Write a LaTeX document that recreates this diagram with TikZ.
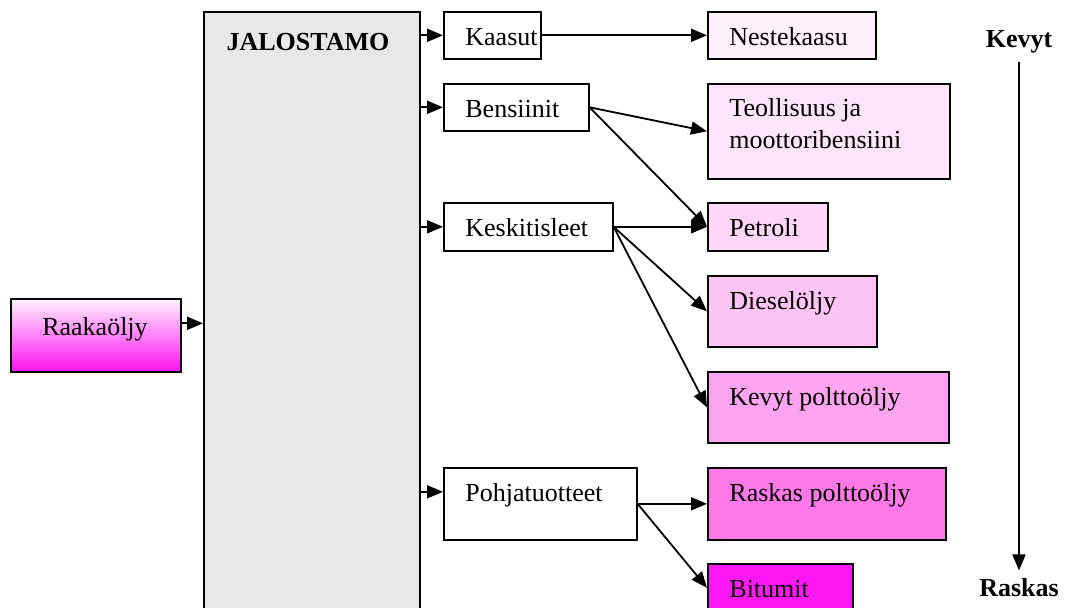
\documentclass[tikz,border=0pt]{standalone}
\usepackage{fontspec}
\setmainfont{Liberation Serif}
\usetikzlibrary{arrows.meta}
\definecolor{jalgrey}{HTML}{E8E8E8}
\definecolor{cneste}{HTML}{FFF0FC}
\definecolor{cteoll}{HTML}{FFE4FA}
\definecolor{cpetro}{HTML}{FFD6F8}
\definecolor{cdiesel}{HTML}{FFC4F4}
\definecolor{ckevyt}{HTML}{FFA4F0}
\definecolor{craskas}{HTML}{FF78E8}
\definecolor{cbitum}{HTML}{FF18F4}
\definecolor{craakatop}{HTML}{FFF2FF}
\definecolor{craakabot}{HTML}{FF10F0}
\tikzset{
  box/.style={draw=black, line width=0.8pt, rectangle, inner sep=0pt, anchor=north west},
  lbl/.style={anchor=base west, inner sep=0pt, font=\fontsize{13}{16}\selectfont, align=left},
  arr/.style={line width=0.9pt, -{Triangle[length=8pt,width=6.5pt]}},
  side/.style={inner sep=2pt, font=\fontsize{13}{16}\selectfont\bfseries}
}
\begin{document}
\begin{tikzpicture}[x=0.5pt,y=-0.5pt]
\useasboundingbox (0,0) rectangle (1071,607);
% main boxes
\node[box, fill=jalgrey, minimum width=108pt, minimum height=305pt] (jal) at (203,11) {};
\node[inner sep=0pt, font=\fontsize{13}{16}\selectfont\bfseries] (jaltxt) at (308,42) {JALOSTAMO};
\node[box, top color=craakatop, bottom color=craakabot, minimum width=85pt, minimum height=36.5pt] (raaka) at (10,298) {};
\node[inner sep=0pt, anchor=base, font=\fontsize{13}{16}\selectfont] (raakatxt) at (95,335) {Raakaöljy};
% fractions
\node[box, fill=white, minimum width=48.5pt, minimum height=23.5pt] (kaasut) at (443,11) {};
\node[box, fill=white, minimum width=72.5pt, minimum height=23.5pt] (bens) at (443,83) {};
\node[box, fill=white, minimum width=84.5pt, minimum height=24pt] (keski) at (443,202) {};
\node[box, fill=white, minimum width=96.5pt, minimum height=36pt] (pohja) at (443,467) {};
% products
\node[box, fill=cneste, minimum width=84pt, minimum height=23.5pt] (neste) at (707,11) {};
\node[box, fill=cteoll, minimum width=121pt, minimum height=47.5pt] (teoll) at (707,83) {};
\node[box, fill=cpetro, minimum width=60pt, minimum height=24pt] (petro) at (707,202) {};
\node[box, fill=cdiesel, minimum width=84.5pt, minimum height=35.5pt] (diesel) at (707,275) {};
\node[box, fill=ckevyt, minimum width=120.5pt, minimum height=35.5pt] (kevytp) at (707,371) {};
\node[box, fill=craskas, minimum width=119pt, minimum height=36pt] (raskasp) at (707,467) {};
\node[box, fill=cbitum, minimum width=72.5pt, minimum height=24pt] (bitum) at (707,563) {};
% labels
\node[lbl] (t1) at ([shift={(11pt,-17pt)}]kaasut.north west) {Kaasut};
\node[lbl] (t2) at ([shift={(11pt,-17pt)}]bens.north west) {Bensiinit};
\node[lbl] (t3) at ([shift={(11pt,-17pt)}]keski.north west) {Keskitisleet};
\node[lbl] (t4) at ([shift={(11pt,-17pt)}]pohja.north west) {Pohjatuotteet};
\node[lbl] (t5) at ([shift={(11pt,-17pt)}]neste.north west) {Nestekaasu};
\node[lbl, anchor=north west] (t6) at ([shift={(11pt,-7.5pt)}]teoll.north west) {Teollisuus ja\\moottoribensiini};
\node[lbl] (t7) at ([shift={(11pt,-17pt)}]petro.north west) {Petroli};
\node[lbl] (t8) at ([shift={(11pt,-17pt)}]diesel.north west) {Dieselöljy};
\node[lbl] (t9) at ([shift={(11pt,-17pt)}]kevytp.north west) {Kevyt polttoöljy};
\node[lbl] (t10) at ([shift={(11pt,-17pt)}]raskasp.north west) {Raskas polttoöljy};
\node[lbl] (t11) at ([shift={(11pt,-17pt)}]bitum.north west) {Bitumit};
% connectors
\coordinate (rout) at ([yshift=6pt]raaka.east);
\draw[arr] (rout) -- (jal.west |- rout);
\draw[arr] (jal.east |- kaasut.west) -- (kaasut.west);
\draw[arr] (jal.east |- bens.west) -- (bens.west);
\draw[arr] (jal.east |- keski.west) -- (keski.west);
\coordinate (pin) at ([yshift=6pt]pohja.west);
\draw[arr] (jal.east |- pin) -- (pin);
\draw[arr] (kaasut.east) -- (neste.west);
\draw[arr] (bens.east) -- (teoll.west);
\draw[arr] (bens.east) -- (petro.west);
\draw[arr] (keski.east) -- (petro.west);
\draw[arr] (keski.east) -- (diesel.west);
\draw[arr] (keski.east) -- (kevytp.west);
\draw[arr] (pohja.east) -- (raskasp.west);
\draw[arr] (pohja.east) -- (bitum.west);
% side scale
\node[side] (kev) at (1019,42) {Kevyt};
\node[side] (ras) at (1019,588) {Raskas};
\draw[arr] ([yshift=-2pt]kev.south) -- ([yshift=2pt]ras.north);
\end{tikzpicture}
\end{document}
